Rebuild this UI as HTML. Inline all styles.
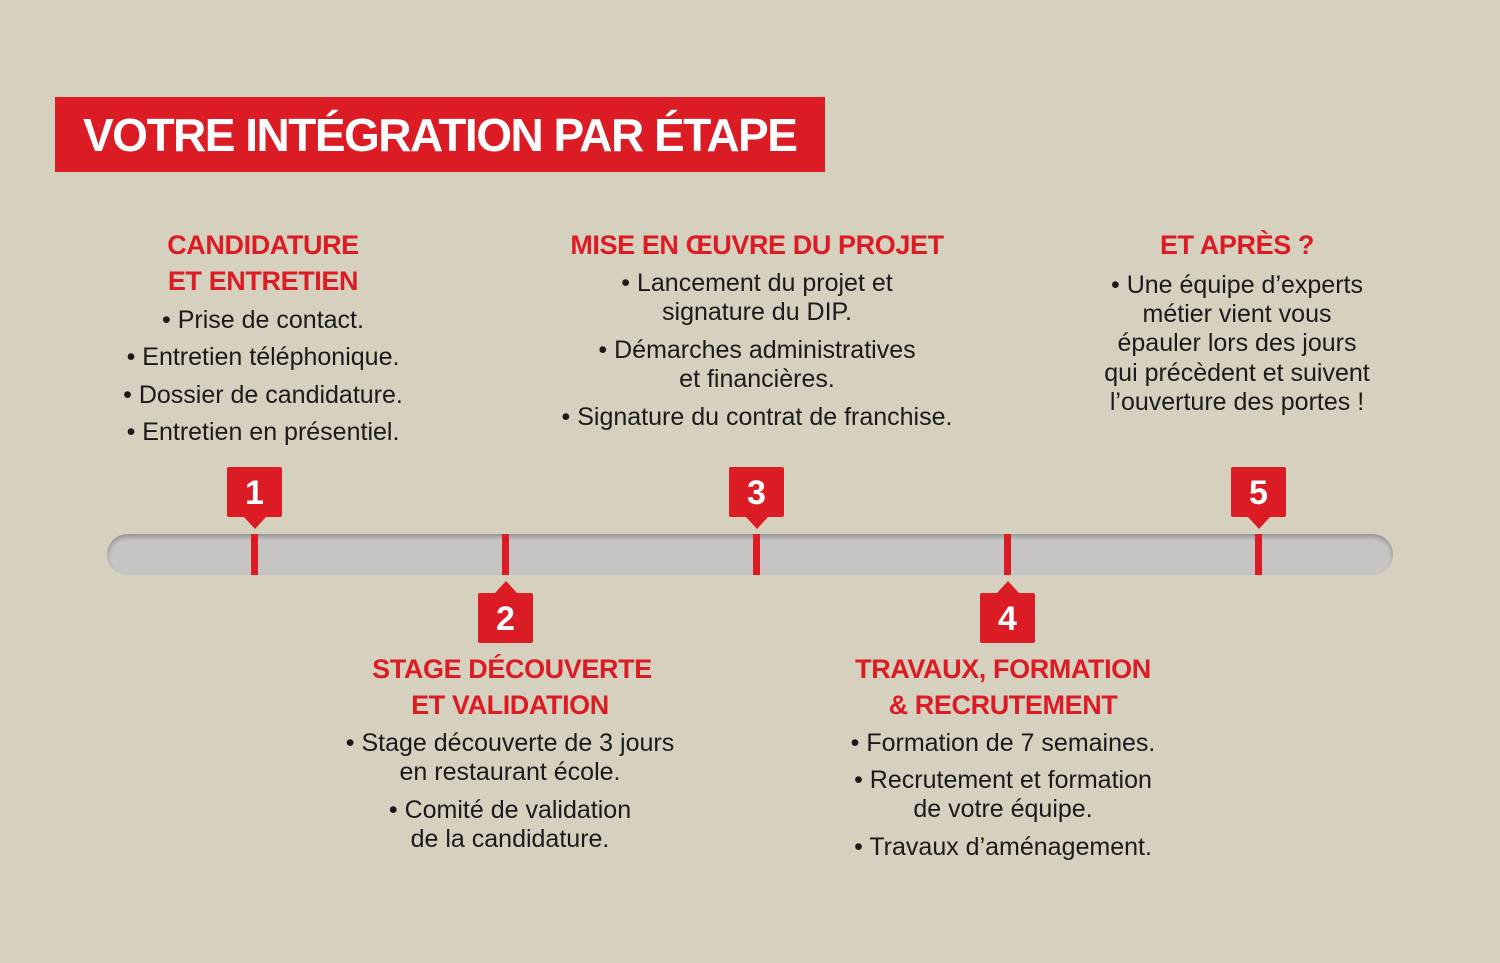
<!DOCTYPE html>
<html><head><meta charset="utf-8"><style>
body{margin:0;width:1500px;height:963px;background:#d6d0bf;position:relative;overflow:hidden;font-family:"Liberation Sans",sans-serif}
.t{position:absolute;height:30px;line-height:30px;white-space:nowrap;text-align:center;width:600px;transform:translateX(-300px)}
.b{font-size:25px;color:#1a1a1a}
.h{font-size:27px;font-weight:bold;color:#dc1c24;letter-spacing:-0.4px}
.title{position:absolute;left:55px;top:97px;width:770px;height:75px;background:#dc1c24;color:#fff;font-weight:bold;font-size:46px;line-height:77px;padding-left:28px;box-sizing:border-box;letter-spacing:-1.5px}
.bar{position:absolute;left:107px;top:534px;width:1286px;height:41px;border-radius:21px;background:#c6c5c4;box-shadow:inset 0 3px 4px rgba(0,0,0,.25)}
.tick{position:absolute;top:534px;width:7px;height:41px;background:#dc1c24}
.m{position:absolute;width:55px;height:50px;background:#dc1c24;border-radius:2px;color:#fff;font-weight:bold;font-size:34px;text-align:center;line-height:52px}
.m.up:after{content:"";position:absolute;left:17px;bottom:-12px;border-left:11px solid transparent;border-right:11px solid transparent;border-top:12px solid #dc1c24}
.m.dn:before{content:"";position:absolute;left:17px;top:-12px;border-left:11px solid transparent;border-right:11px solid transparent;border-bottom:12px solid #dc1c24}
</style></head><body>
<div class="title">VOTRE INTÉGRATION PAR ÉTAPE</div>

<div class="t h" style="left:263px;top:230px">CANDIDATURE</div>
<div class="t h" style="left:263px;top:266px">ET ENTRETIEN</div>
<div class="t b" style="left:263px;top:305px">• Prise de contact.</div>
<div class="t b" style="left:263px;top:342px">• Entretien téléphonique.</div>
<div class="t b" style="left:263px;top:380px">• Dossier de candidature.</div>
<div class="t b" style="left:263px;top:417px">• Entretien en présentiel.</div>

<div class="t h" style="left:757px;top:230px">MISE EN ŒUVRE DU PROJET</div>
<div class="t b" style="left:757px;top:268px">• Lancement du projet et</div>
<div class="t b" style="left:757px;top:297px">signature du DIP.</div>
<div class="t b" style="left:757px;top:335px">• Démarches administratives</div>
<div class="t b" style="left:757px;top:364px">et financières.</div>
<div class="t b" style="left:757px;top:402px">• Signature du contrat de franchise.</div>

<div class="t h" style="left:1237px;top:230px">ET APRÈS ?</div>
<div class="t b" style="left:1237px;top:270px">• Une équipe d’experts</div>
<div class="t b" style="left:1237px;top:299px">métier vient vous</div>
<div class="t b" style="left:1237px;top:328px">épauler lors des jours</div>
<div class="t b" style="left:1237px;top:358px">qui précèdent et suivent</div>
<div class="t b" style="left:1237px;top:387px">l’ouverture des portes !</div>

<div class="t h" style="left:512px;top:654px">STAGE DÉCOUVERTE</div>
<div class="t h" style="left:510px;top:690px">ET VALIDATION</div>
<div class="t b" style="left:510px;top:728px">• Stage découverte de 3 jours</div>
<div class="t b" style="left:510px;top:757px">en restaurant école.</div>
<div class="t b" style="left:510px;top:795px">• Comité de validation</div>
<div class="t b" style="left:510px;top:824px">de la candidature.</div>

<div class="t h" style="left:1003px;top:654px">TRAVAUX, FORMATION</div>
<div class="t h" style="left:1003px;top:690px">&amp; RECRUTEMENT</div>
<div class="t b" style="left:1003px;top:728px">• Formation de 7 semaines.</div>
<div class="t b" style="left:1003px;top:765px">• Recrutement et formation</div>
<div class="t b" style="left:1003px;top:794px">de votre équipe.</div>
<div class="t b" style="left:1003px;top:832px">• Travaux d’aménagement.</div>

<div class="bar"></div>
<div class="tick" style="left:251px"></div>
<div class="tick" style="left:502px"></div>
<div class="tick" style="left:753px"></div>
<div class="tick" style="left:1004px"></div>
<div class="tick" style="left:1255px"></div>

<div class="m up" style="left:227px;top:467px">1</div>
<div class="m up" style="left:729px;top:467px">3</div>
<div class="m up" style="left:1231px;top:467px">5</div>
<div class="m dn" style="left:478px;top:593px">2</div>
<div class="m dn" style="left:980px;top:593px">4</div>
</body></html>
